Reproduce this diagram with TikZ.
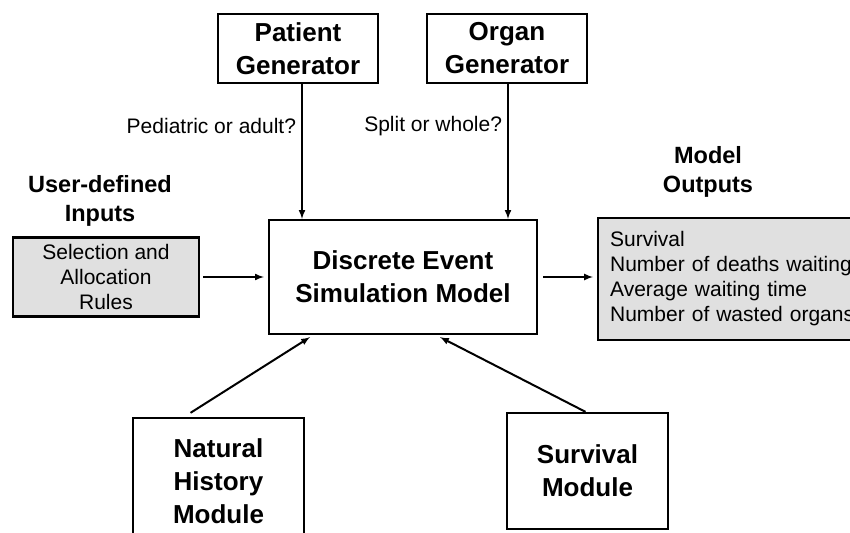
\documentclass[tikz,border=0pt]{standalone}
\usepackage{fontspec}
\setmainfont{Liberation Sans}
\usetikzlibrary{arrows}
\usetikzlibrary{positioning,shapes}

\definecolor{inputgray}{HTML}{E0E0E0}

\tikzset{
  block/.style={draw,rectangle,align=center,inner sep=0pt,line width=2.3pt,
    font=\bfseries\fontsize{26}{33}\selectfont},
  plainbox/.style={draw,rectangle,align=center,inner sep=0pt,line width=2.3pt,
    fill=inputgray,font=\fontsize{21}{25}\selectfont},
  heading/.style={align=center,font=\bfseries\fontsize{23.5}{28.5}\selectfont},
  question/.style={font=\fontsize{21}{25}\selectfont,inner sep=5pt}
}

\begin{document}
\begin{tikzpicture} [->,>=latex,x=1pt,y=-1pt,line width=2pt]

  \clip (0,0) rectangle (850,532);

  \node[block] (model) [minimum width=268pt,minimum height=114pt] at (403,277) {Discrete Event\\Simulation Model};
  \node[block] (patient) [minimum width=160pt,minimum height=69pt] at (298,48.5) {Patient\\Generator};
  \node[block] (organ) [minimum width=160pt,minimum height=69pt] at (507,48.5) {Organ\\Generator};
  \node[block] (natural) [minimum width=171pt,minimum height=127pt] at (218.5,481.5) {Natural\\History\\Module};
  \node[block] (survival) [minimum width=161pt,minimum height=116pt] at (587.5,471) {Survival\\Module};

  \node[plainbox] (rules) [minimum width=186pt,minimum height=79pt] at (106,277) {Selection and\\Allocation\\Rules};
  \node[plainbox] (outputs) [anchor=west,align=left,minimum height=122pt,text width=248pt,inner xsep=12pt] at (597,279)
    {Survival\\Number of deaths waiting\\Average waiting time\\Number of wasted organs};

  \node[heading] (inputtitle) at (100,201) {User-defined\\Inputs};
  \node[heading] (outputtitle) at (708,172) {Model\\Outputs};

  \path
    ([xshift=4pt]patient.south) edge node [question,left,pos=0.31] {Pediatric or adult?} ([xshift=4pt]patient.south |- model.north)
    ([xshift=1pt]organ.south) edge node [question,left,pos=0.31] {Split or whole?} ([xshift=1pt]organ.south |- model.north)
    ([xshift=3pt]rules.east) edge ([xshift=-4pt]model.west)
    ([xshift=5pt]model.east) edge ([xshift=-4pt]outputs.west |- model.east)
    ([xshift=-28pt,yshift=4pt]natural.north) edge ([xshift=-93pt,yshift=-2pt]model.south)
    ([xshift=-2pt]survival.north) edge ([xshift=37pt,yshift=-2pt]model.south);

\end{tikzpicture}
\end{document}
